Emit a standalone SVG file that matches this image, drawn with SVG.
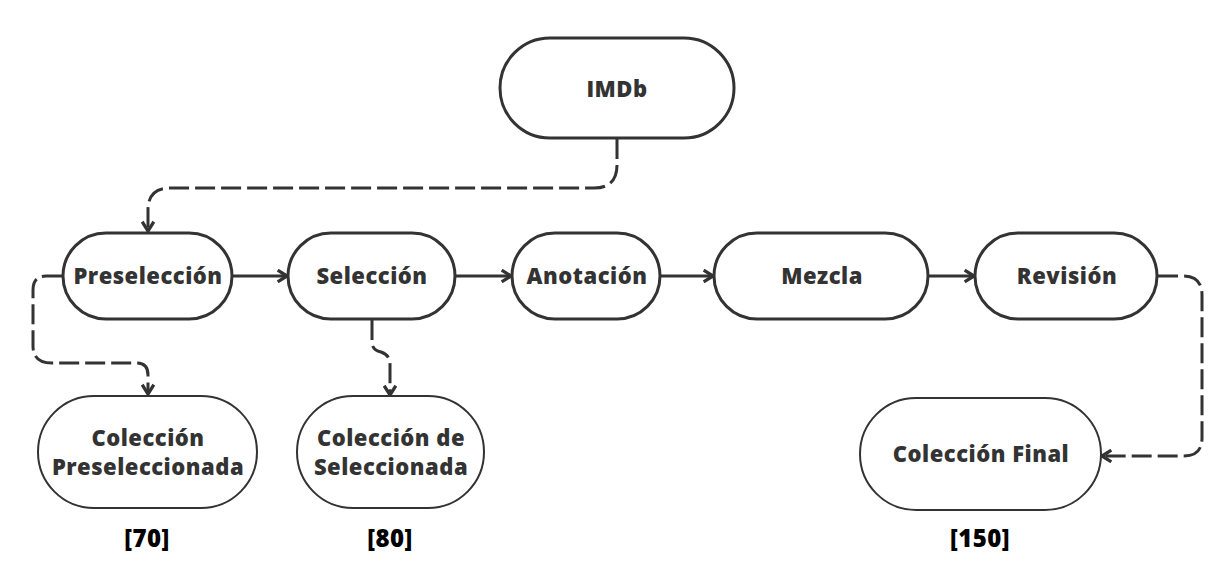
<svg xmlns="http://www.w3.org/2000/svg" width="1223" height="587" viewBox="0 0 1223 587">
<style>
.n{fill:#fff;stroke:#333;stroke-width:3}
.m{fill:#fff;stroke:#333;stroke-width:2}
.t{font-family:"Open Sans","DejaVu Sans",sans-serif;font-weight:800;font-size:22px;letter-spacing:0.5px;fill:#333;text-anchor:middle}
.l{font-family:"Open Sans","DejaVu Sans",sans-serif;font-weight:800;font-size:24px;letter-spacing:0.5px;fill:#000;text-anchor:middle}
.c{fill:none;stroke:#333;stroke-width:3}
.d{stroke-dasharray:20 6}
</style>
<defs>
<marker id="a" viewBox="0 0 12 12" refX="10" refY="6" markerWidth="14" markerHeight="14" markerUnits="userSpaceOnUse" orient="auto">
<path d="M2,1 L10,6 L2,11" fill="none" stroke="#333" stroke-width="2.8" stroke-linejoin="miter"/>
</marker>
</defs>
<g id="connectors">
<path class="c d" d="M617,139 V165 Q617,188 594,188 H170 Q148,188 148,210 V231" marker-end="url(#a)"/>
<path class="c" d="M233,276 H287" marker-end="url(#a)"/>
<path class="c" d="M456,276 H511" marker-end="url(#a)"/>
<path class="c" d="M661,276 H713" marker-end="url(#a)"/>
<path class="c" d="M929,276 H974" marker-end="url(#a)"/>
<path class="c d" d="M62,276 H46 Q33,276 33,290 V346 Q33,363 52,363 H137 Q148,363 148,375 V394" marker-end="url(#a)"/>
<path class="c d" d="M372,320 V342 Q372,350 381,352 Q390,355 390,364 V395" marker-end="url(#a)"/>
<path class="c d" d="M1158,276 H1183 Q1202,276 1202,295 V438 Q1202,456 1184,456 H1102" marker-end="url(#a)"/>
</g>
<g id="imdb"><rect class="n" x="500" y="38" width="234" height="100" rx="50"/><text class="t" x="617" y="96.5">IMDb</text></g>
<g id="preseleccion"><rect class="n" x="63" y="233" width="169" height="86" rx="43"/><text class="t" x="148" y="284">Preselección</text></g>
<g id="seleccion"><rect class="n" x="288" y="233" width="167" height="86" rx="43"/><text class="t" x="372" y="284">Selección</text></g>
<g id="anotacion"><rect class="n" x="512" y="233" width="148" height="86" rx="43"/><text class="t" x="587" y="284">Anotación</text></g>
<g id="mezcla"><rect class="n" x="714" y="233" width="214" height="86" rx="43"/><text class="t" x="822" y="284">Mezcla</text></g>
<g id="revision"><rect class="n" x="975" y="233" width="182" height="86" rx="43"/><text class="t" x="1067" y="284">Revisión</text></g>
<g id="coleccion-preseleccionada"><rect class="m" x="38" y="396" width="219" height="112" rx="56"/><text class="t" x="148" y="446">Colección</text><text class="t" x="148" y="475">Preseleccionada</text><text class="l" x="147" y="547">[70]</text></g>
<g id="coleccion-seleccionada"><rect class="m" x="297" y="396" width="187" height="112" rx="56"/><text class="t" x="391" y="446">Colección de</text><text class="t" x="391" y="475">Seleccionada</text><text class="l" x="390" y="547">[80]</text></g>
<g id="coleccion-final"><rect class="m" x="860" y="398" width="241" height="112" rx="56"/><text class="t" x="981" y="462">Colección Final</text><text class="l" x="980" y="547">[150]</text></g>
</svg>
